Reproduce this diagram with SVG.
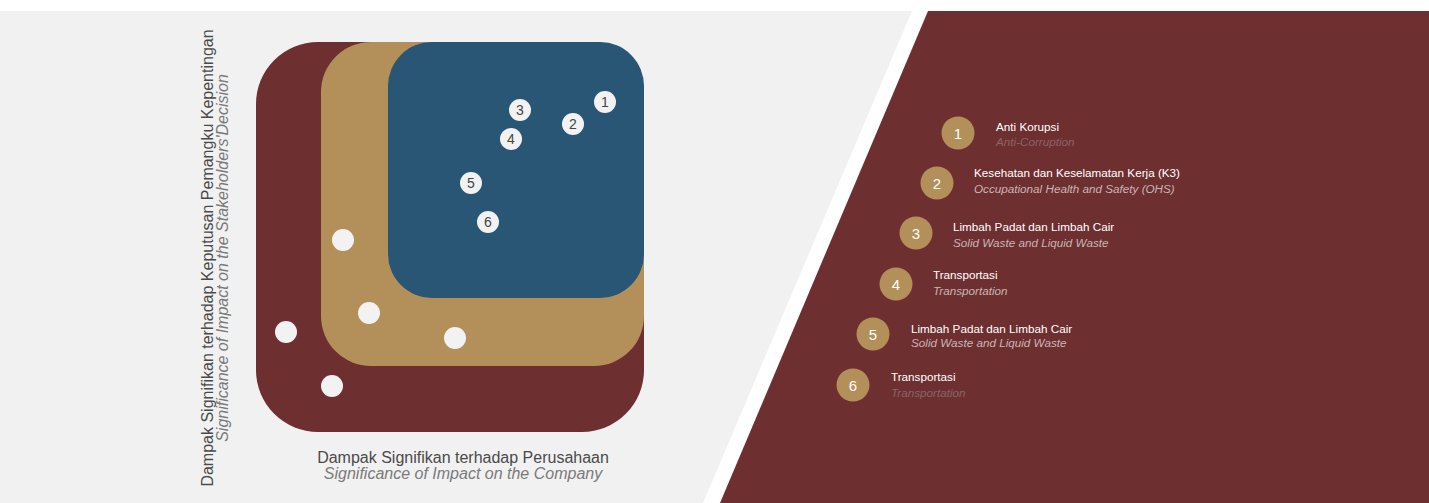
<svg xmlns="http://www.w3.org/2000/svg" width="1429" height="503" viewBox="0 0 1429 503">
  <style>
    .sans { font-family: "Liberation Sans", Arial, sans-serif; }
    .axis { font-size: 16px; fill: #4a4a4a; }
    .axis-it { font-size: 16px; fill: #7a7a7a; font-style: italic; }
    .dot { fill: #f2f2f2; }
    .dot-num { font-size: 14px; fill: #444; text-anchor: middle; }
    .badge { fill: #b38f5a; }
    .badge-num { font-size: 15px; fill: #ffffff; text-anchor: middle; }
    .item { font-size: 11.7px; fill: #ffffff; }
    .item-it { font-size: 11.7px; font-style: italic; fill: #c9b5b5; }
    .item-it.dim { fill: #8a6466; }
  </style>

  <!-- page background -->
  <rect x="0" y="0" width="1429" height="503" fill="#ffffff"/>
  <polygon points="0,11 912,11 703,503 0,503" fill="#f1f1f1"/>
  <polygon points="928,11 1429,11 1429,503 720,503" fill="#6e2f31"/>

  <!-- materiality matrix -->
  <g id="matrix">
    <rect x="256" y="42" width="388" height="390" rx="62" ry="62" fill="#6e2f31"/>
    <rect x="321" y="42" width="323" height="324" rx="50" ry="50" fill="#b38f5a"/>
    <rect x="388" y="42" width="256" height="256" rx="44" ry="44" fill="#2a5676"/>
  </g>

  <!-- plotted topics -->
  <g id="points" class="sans">
    <g id="p1"><circle class="dot" cx="605" cy="102" r="11"/><text class="dot-num" x="605" y="107">1</text></g>
    <g id="p2"><circle class="dot" cx="573" cy="124" r="11"/><text class="dot-num" x="573" y="129">2</text></g>
    <g id="p3"><circle class="dot" cx="520" cy="110" r="11"/><text class="dot-num" x="520" y="115">3</text></g>
    <g id="p4"><circle class="dot" cx="511" cy="139" r="11"/><text class="dot-num" x="511" y="144">4</text></g>
    <g id="p5"><circle class="dot" cx="471" cy="183" r="11"/><text class="dot-num" x="471" y="188">5</text></g>
    <g id="p6"><circle class="dot" cx="488" cy="222" r="11"/><text class="dot-num" x="488" y="227">6</text></g>
    <circle class="dot" cx="343" cy="240" r="11"/>
    <circle class="dot" cx="369" cy="313" r="11"/>
    <circle class="dot" cx="286" cy="332" r="11"/>
    <circle class="dot" cx="455" cy="338" r="11"/>
    <circle class="dot" cx="332" cy="386" r="11"/>
  </g>

  <!-- axis titles -->
  <g id="axis-x" class="sans">
    <text class="axis" x="463" y="463" text-anchor="middle">Dampak Signifikan terhadap Perusahaan</text>
    <text class="axis-it" x="463" y="479" text-anchor="middle">Significance of Impact on the Company</text>
  </g>
  <g id="axis-y" class="sans">
    <text class="axis" transform="translate(213,258) rotate(-90)" text-anchor="middle">Dampak Signifikan terhadap Keputusan Pemangku Kepentingan</text>
    <text class="axis-it" transform="translate(228,258) rotate(-90)" text-anchor="middle">Significance of Impact on the Stakeholders'Decision</text>
  </g>

  <!-- legend -->
  <g id="legend" class="sans">
    <g id="l1">
      <circle class="badge" cx="958" cy="133" r="16.5"/>
      <text class="badge-num" x="958" y="138.5">1</text>
      <text class="item" x="996" y="131">Anti Korupsi</text>
      <text class="item-it dim" x="996" y="146">Anti-Corruption</text>
    </g>
    <g id="l2">
      <circle class="badge" cx="937" cy="183" r="16.5"/>
      <text class="badge-num" x="937" y="188.5">2</text>
      <text class="item" x="974" y="177">Kesehatan dan Keselamatan Kerja (K3)</text>
      <text class="item-it" x="974" y="193">Occupational Health and Safety (OHS)</text>
    </g>
    <g id="l3">
      <circle class="badge" cx="916" cy="233" r="16.5"/>
      <text class="badge-num" x="916" y="238.5">3</text>
      <text class="item" x="953" y="231">Limbah Padat dan Limbah Cair</text>
      <text class="item-it" x="953" y="247">Solid Waste and Liquid Waste</text>
    </g>
    <g id="l4">
      <circle class="badge" cx="896" cy="284" r="16.5"/>
      <text class="badge-num" x="896" y="289.5">4</text>
      <text class="item" x="933" y="279">Transportasi</text>
      <text class="item-it" x="933" y="295">Transportation</text>
    </g>
    <g id="l5">
      <circle class="badge" cx="873" cy="334" r="16.5"/>
      <text class="badge-num" x="873" y="339.5">5</text>
      <text class="item" x="911" y="333">Limbah Padat dan Limbah Cair</text>
      <text class="item-it" x="911" y="347">Solid Waste and Liquid Waste</text>
    </g>
    <g id="l6">
      <circle class="badge" cx="853" cy="385" r="16.5"/>
      <text class="badge-num" x="853" y="390.5">6</text>
      <text class="item" x="891" y="381">Transportasi</text>
      <text class="item-it dim" x="891" y="397">Transportation</text>
    </g>
  </g>
</svg>
